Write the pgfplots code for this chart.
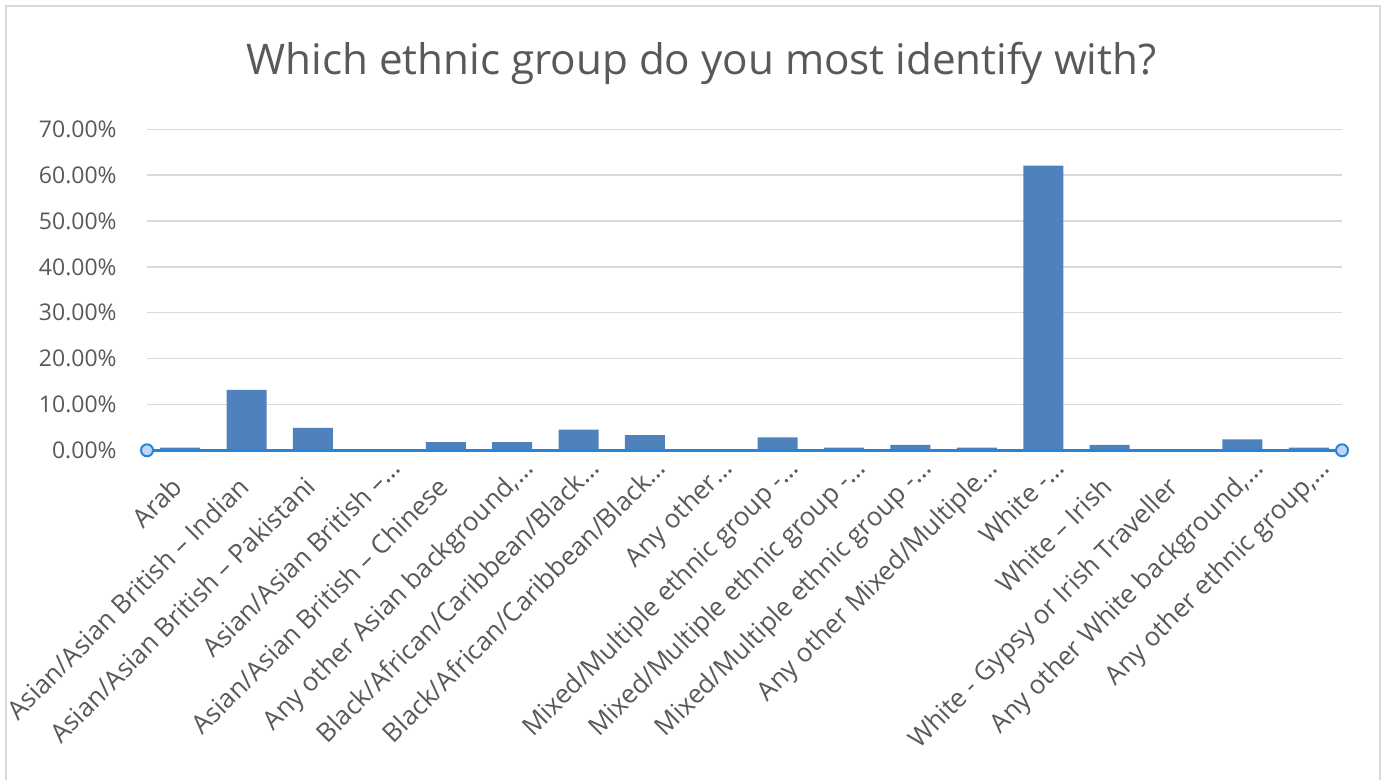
\documentclass[border=0pt]{standalone}
\usepackage{fontspec}
\setmainfont{Open Sans}
\usepackage{pgfplots}
\pgfplotsset{compat=1.18}

\definecolor{barblue}{RGB}{79,129,189}
\definecolor{axblue}{RGB}{38,132,218}
\definecolor{handle}{RGB}{189,215,245}
\definecolor{gridgray}{RGB}{217,217,217}
\definecolor{txtgray}{RGB}{89,89,89}

% truncated labels in the source run a little past the tick
\newcommand{\trunc}{\kern-13pt}

\begin{document}
\begin{tikzpicture}
\useasboundingbox (0,0) rectangle (693pt,390pt);
\draw[gridgray, line width=1pt] (3pt,-5pt) -- (3pt,387pt) -- (690pt,387pt) -- (690pt,-5pt);

\node[anchor=base, text=txtgray, font=\fontsize{21.1}{25}\selectfont]
  at (350.75pt,352.5pt) {Which ethnic group do you most identify with?};

\begin{axis}[
    at={(73.5pt,164.85pt)}, anchor=south west,
    scale only axis, width=597.5pt, height=160.5pt,
    xmin=-0.5, xmax=17.5, ymin=0, ymax=70,
    ybar, bar width=20pt, bar shift=0pt,
    clip=false,
    axis line style={draw=none},
    major tick length=0pt,
    tick style={draw=none},
    ymajorgrids,
    grid style={gridgray, line width=0.75pt},
    ytick={0,10,...,70},
    /pgf/number format/assume math mode=true,
    yticklabel={\pgfmathprintnumber[fixed,fixed zerofill,precision=2]{\tick}\%},
    yticklabel style={font=\fontsize{11.5}{13}\selectfont, text=txtgray,
        anchor=east, inner sep=0pt, xshift=-15pt},
    xtick={0,...,17},
    xticklabels={
        Arab,
        Asian/Asian British – Indian,
        Asian/Asian British – Pakistani,
        Asian/Asian British –…\trunc,
        Asian/Asian British – Chinese,
        {Any other Asian background,…\trunc},
        Black/African/Caribbean/Black…\trunc,
        Black/African/Caribbean/Black…\trunc,
        Any other…\trunc,
        Mixed/Multiple ethnic group -…\trunc,
        Mixed/Multiple ethnic group -…\trunc,
        Mixed/Multiple ethnic group -…\trunc,
        Any other Mixed/Multiple…\trunc,
        White -…\trunc,
        White – Irish,
        White - Gypsy or Irish Traveller,
        {Any other White background,…\trunc},
        {Any other ethnic group,…\trunc}
    },
    xticklabel style={font=\fontsize{13}{15}\selectfont, text=txtgray,
        inner sep=0pt, anchor=north east, xshift=-5pt, yshift=-12pt, rotate=45},
]
\addplot[fill=barblue, draw=none] coordinates {
    (0,0.6) (1,13.2) (2,4.9) (3,0) (4,1.8) (5,1.8) (6,4.5) (7,3.3) (8,0)
    (9,2.8) (10,0.6) (11,1.2) (12,0.6) (13,62.1) (14,1.2) (15,0) (16,2.4) (17,0.6)
};
\draw[axblue, line width=1.25pt] (rel axis cs:0,0) -- (rel axis cs:1,0);
\draw[axblue, fill=handle, line width=1pt] (rel axis cs:0,0) circle[radius=3pt];
\draw[axblue, fill=handle, line width=1pt] (rel axis cs:1,0) circle[radius=3pt];
\end{axis}
\end{tikzpicture}
\end{document}
